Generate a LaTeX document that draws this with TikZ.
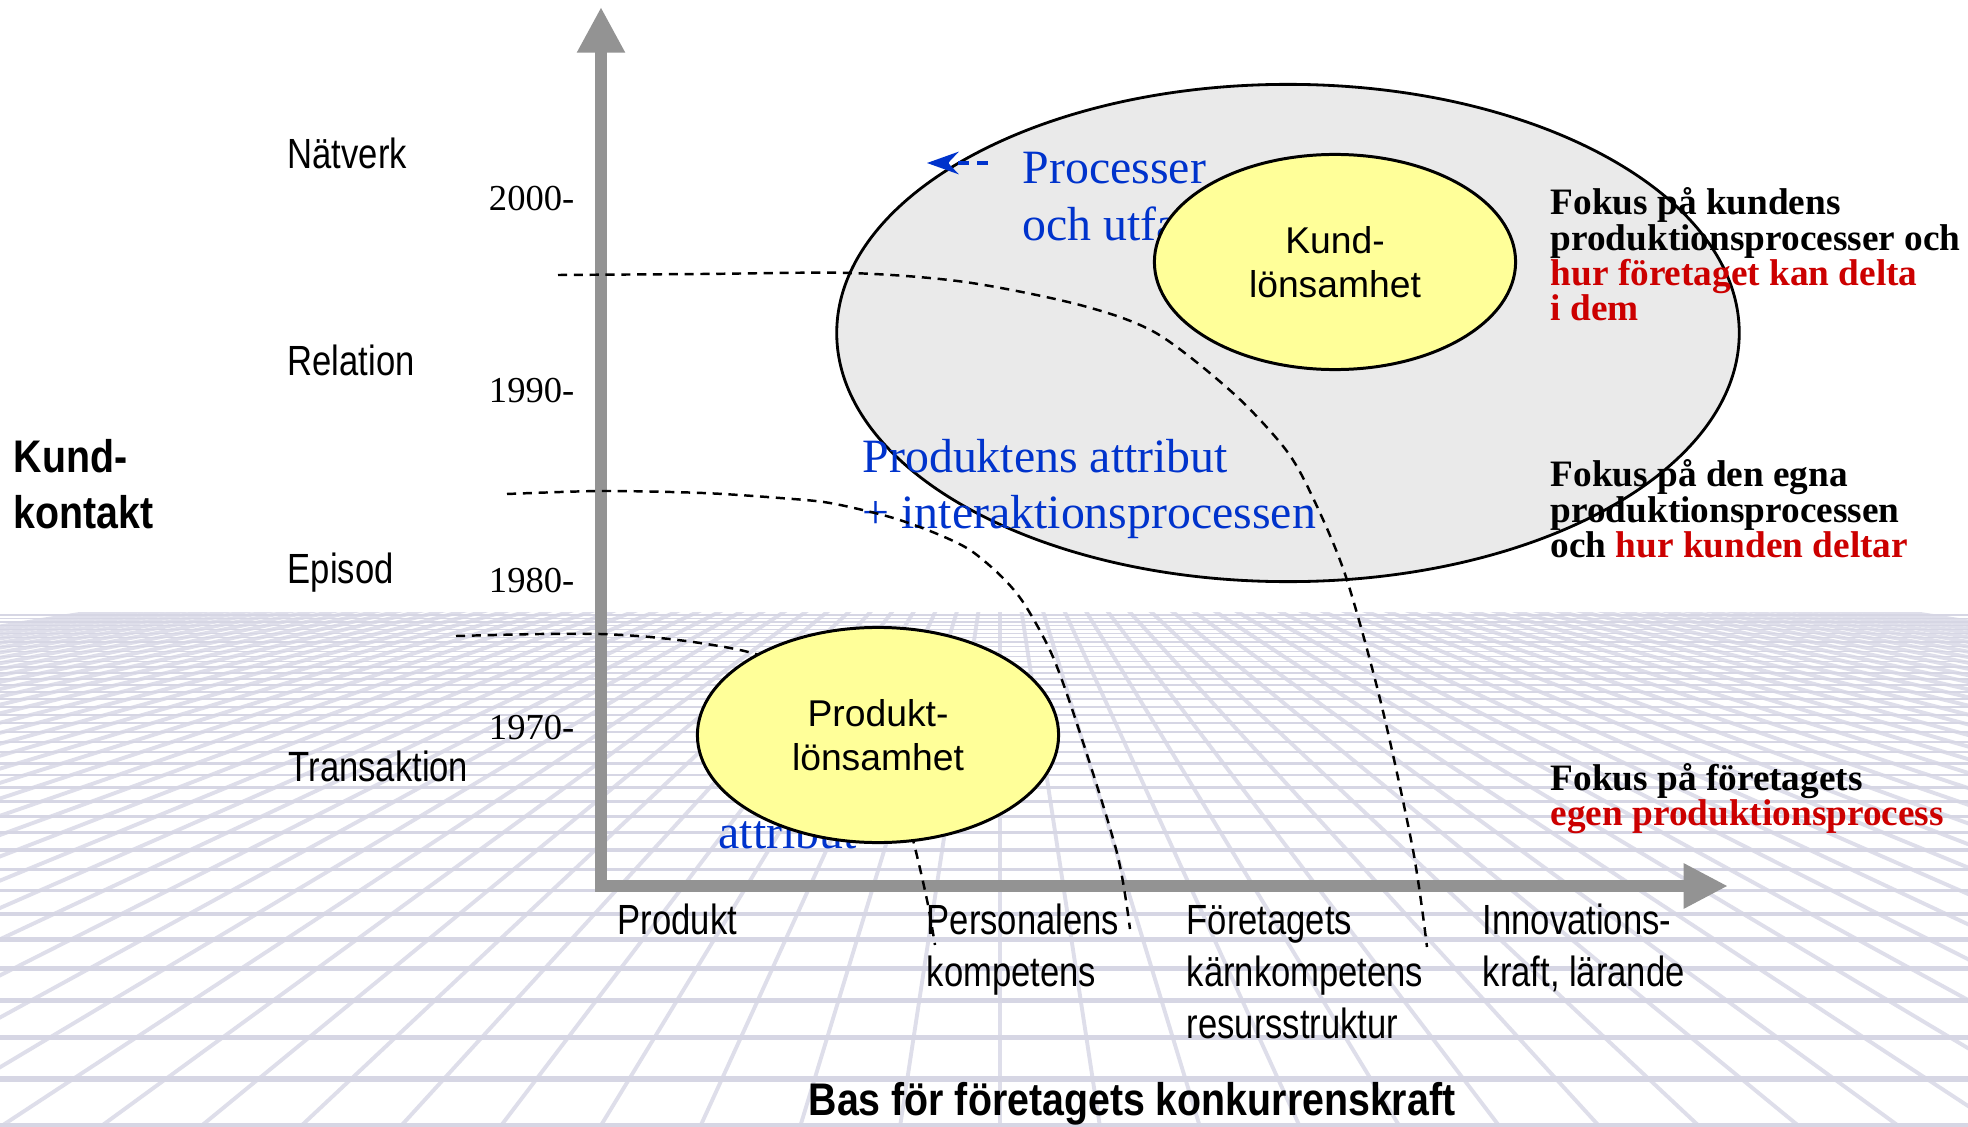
\documentclass[tikz,border=0pt]{standalone}
\usepackage{fontspec}
\setmainfont{Liberation Serif}
\newfontfamily\arialf{Liberation Sans}
\newfontfamily\narrowf[FakeStretch=0.82]{Liberation Sans}
\newfontfamily\narrowbf[FakeStretch=0.86]{Liberation Sans Bold}
\usetikzlibrary{shapes.geometric,arrows.meta}
\definecolor{bluetxt}{HTML}{0033CC}
\definecolor{redtxt}{HTML}{CC0000}
\definecolor{ylw}{HTML}{FFFF99}
\definecolor{ellgray}{HTML}{EAEAEA}
\definecolor{axisgray}{HTML}{939393}
\definecolor{gridc}{RGB}{214,214,228}
\definecolor{gridr}{RGB}{222,222,234}
\tikzset{
  lefttxt/.style={anchor=base west, inner sep=0pt, font=\narrowf\fontsize{12}{14}\selectfont},
  yeartxt/.style={anchor=base east, inner sep=0pt, font=\fontsize{10.4}{12}\selectfont},
  bluetext/.style={anchor=base west, inner sep=0pt, text=bluetxt, font=\fontsize{13.6}{16}\selectfont},
  focustxt/.style={anchor=base west, inner sep=0pt, font=\bfseries\fontsize{10.6}{12}\selectfont},
  boldlbl/.style={anchor=base west, inner sep=0pt, font=\narrowbf\fontsize{13}{15}\selectfont},
  yellowell/.style={ellipse, draw, line width=0.85pt, fill=ylw, inner sep=0pt, align=center,
     minimum width=3.61cm, minimum height=2.15cm, font=\arialf\fontsize{10.6}{12.6}\selectfont},
  grayell/.style={ellipse, draw, line width=0.8pt, fill=ellgray, inner sep=0pt,
     minimum width=9.02cm, minimum height=4.97cm},
  dashcurve/.style={line width=0.7pt, dash pattern=on 2.6pt off 1.9pt},
  axisline/.style={axisgray, line width=3.5pt, line cap=rect},
}
\begin{document}
\begin{tikzpicture}[x=0.01cm,y=-0.01cm]
\useasboundingbox (0,0) rectangle (1968,1127);
\fill[white] (0,0) rectangle (1968,1127);

% perspective floor grid
\begin{scope}
  \clip (0,612) rectangle (1968,1127);
  \foreach \xb in {-3200,-3100,...,5200}{
    \draw[gridr, line width=1.1pt] (1000,470) -- (\xb,1127);
  }
  \foreach \i in {0,...,40}{
    \pgfmathsetmacro\yy{440+687/(1+0.075*\i)}
    \pgfmathsetmacro\ww{0.1+1.9/(1+0.075*\i)^1.5}
    \draw[gridc, line width=\ww pt] (0,\yy) -- (1968,\yy);
  }
\end{scope}

% axes
\coordinate (origin) at (601,886);
\coordinate (ytip) at (601,7);
\coordinate (xtip) at (1728,886);
\draw[axisline, -{Triangle[length=13pt,width=12.8pt]}] (origin) -- (ytip);
\draw[axisline, -{Triangle[length=12.6pt,width=12pt]}] (origin) -- (xtip);

% big grey ellipse
\node[grayell] (proc) at (1288,333) {};

% blue texts
\node[bluetext] (proc1) at (1022,183) {Processer};
\node[bluetext] (proc2) at (1022,240) {och utfall};
\node[bluetext] (pa1) at (862,472) {Produktens attribut};
\node[bluetext] (pa2) at (862,528) {+ interaktionsprocessen};
\node[bluetext] (pp1) at (722,792) {Produktens};
\node[bluetext] (pp2) at (718,848) {attribut};

% blue dashed arrow
\coordinate (barrs) at (988,163);
\coordinate (barre) at (927,163);
\draw[bluetxt, line width=0.9pt, dash pattern=on 3pt off 2.5pt,
      -{Stealth[length=9pt,width=6.4pt,inset=3pt]}] (barrs) -- (barre);

% dashed curves
\draw[dashcurve] plot[smooth, tension=0.5] coordinates {(558,275) (700,274) (850,273) (965,282) (1080,305) (1156,333) (1233,393) (1286,450) (1314,500) (1346,577) (1381,703) (1413,850) (1427,947)};
\draw[dashcurve] plot[smooth, tension=0.5] coordinates {(507,494) (602,491) (703,493) (780,498) (830,503) (890,517) (935,533) (970,550) (1002,577) (1025,605) (1053,657) (1080,733) (1117,853) (1130,929)};
\draw[dashcurve] plot[smooth, tension=0.5] coordinates {(456,636) (540,634) (600,634) (650,637) (700,643) (752,653) (810,675) (860,720) (895,780) (913,840) (927,900) (935,945)};

% yellow ellipses
\node[yellowell] (kund) at (1335,262) {Kund-\\lönsamhet};
\node[yellowell] (prod) at (878,735) {Produkt-\\lönsamhet};

% left labels
\node[lefttxt] (natverk) at (287,168) {Nätverk};
\node[lefttxt] (relation) at (287,375) {Relation};
\node[lefttxt] (episod) at (287,583) {Episod};
\node[lefttxt] (transaktion) at (288,781) {Transaktion};

\node[yeartxt] (y2000) at (575,210) {2000-};
\node[yeartxt] (y1990) at (575,402) {1990-};
\node[yeartxt] (y1980) at (575,592) {1980-};
\node[yeartxt] (y1970) at (575,739) {1970-};

\node[boldlbl] (kk1) at (13,472) {Kund-};
\node[boldlbl] (kk2) at (13,528) {kontakt};

% bottom labels
\node[lefttxt] (produkt) at (617,934) {Produkt};
\node[lefttxt] (pers1) at (926,934) {Personalens};
\node[lefttxt] (pers2) at (926,986) {kompetens};
\node[lefttxt] (fore1) at (1186,934) {Företagets};
\node[lefttxt] (fore2) at (1186,986) {kärnkompetens};
\node[lefttxt] (fore3) at (1186,1038) {resursstruktur};
\node[lefttxt] (innov1) at (1482,934) {Innovations-};
\node[lefttxt] (innov2) at (1482,986) {kraft, lärande};
\node[boldlbl, anchor=base] (bas) at (1132,1115) {Bas för företagets konkurrenskraft};

% right focus texts
\node[focustxt] (f11) at (1550,215) {Fokus på kundens};
\node[focustxt] (f12) at (1550,250) {produktionsprocesser och};
\node[focustxt, text=redtxt] (f13) at (1550,285) {hur företaget kan delta};
\node[focustxt, text=redtxt] (f14) at (1550,320) {i dem};
\node[focustxt] (f21) at (1550,486) {Fokus på den egna};
\node[focustxt] (f22) at (1550,522) {produktionsprocessen};
\node[focustxt] (f23) at (1550,557) {och \textcolor{redtxt}{hur kunden deltar}};
\node[focustxt] (f31) at (1550,790) {Fokus på företagets};
\node[focustxt, text=redtxt] (f32) at (1550,825) {egen produktionsprocess};
\end{tikzpicture}
\end{document}
